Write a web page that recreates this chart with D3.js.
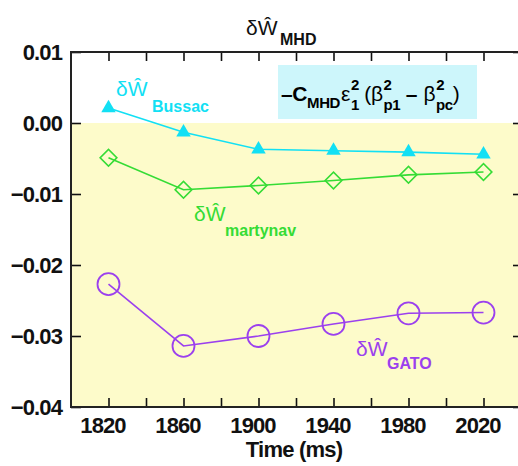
<!DOCTYPE html>
<html>
<head>
<meta charset="utf-8">
<script src="https://cdn.jsdelivr.net/npm/d3@7"></script>
<style>
  body { margin: 0; background: #fff; }
  text { font-family: "Liberation Sans", Arial, sans-serif; }
</style>
</head>
<body>
<div id="chart"></div>
<script>
// times of the equilibria, ms
var times = [1820, 1860, 1900, 1940, 1980, 2020];
var bussac = [0.0021, -0.0013, -0.0037, -0.0039, -0.0041, -0.0044];
var martynav = [-0.0049, -0.0094, -0.0088, -0.0081, -0.0073, -0.0069];
var gato = [-0.0227, -0.0314, -0.0300, -0.0283, -0.0268, -0.0267];
var yTicks = [0.01, 0.00, -0.01, -0.02, -0.03, -0.04];
var xTicks = [1820, 1860, 1900, 1940, 1980, 2020];

var W = 518, H = 466;
var plotLeft = 71, plotTop = 52, plotRight = 521, plotBottom = 407;

var cyan = "#12e0f4", green = "#35dc35", purple = "#9b40ee";

var svg = d3.select("#chart").append("svg")
  .attr("width", W)
  .attr("height", H);

var x = d3.scaleLinear().domain([1800, 2040]).range([plotLeft, plotRight]);
var y = d3.scaleLinear().domain([-0.04, 0.01]).range([plotBottom, plotTop]);

// yellow region below zero
svg.append("rect")
  .attr("x", x(1800)).attr("y", y(0))
  .attr("width", x(2040) - x(1800))
  .attr("height", y(-0.04) - y(0))
  .attr("fill", "#fdfbca");

// formula box
svg.append("rect")
  .attr("x", 278).attr("y", 65)
  .attr("width", 199).attr("height", 54)
  .attr("fill", "#cdf6fb");

var f = svg.append("text")
  .attr("x", 281).attr("y", 101)
  .attr("font-size", 21).attr("font-weight", "bold").attr("letter-spacing", -0.4);
function part(s, o) {
  var t = f.append("tspan").text(s);
  for (var k in o) t.attr(k, o[k]);
  return t;
}
part("\u2013C", {});
part("MHD", {"font-size": 15, dy: 7});
part("\u03b5", {"font-weight": "normal", dy: -7, dx: 1});
part("2", {"font-size": 15, dy: -11, dx: 1});
part("1", {"font-size": 15, dy: 20, dx: -8});
part(" (\u03b2", {"font-weight": "normal", dy: -9});
part("2", {"font-size": 15, dy: -11, dx: 1});
part("p1", {"font-size": 15, dy: 20, dx: -8});
part(" \u2013 ", {dy: -9});
part("\u03b2", {"font-weight": "normal", dx: 1});
part("2", {"font-size": 15, dy: -11, dx: 1});
part("pc", {"font-size": 15, dy: 20, dx: -8});
part(")", {"font-weight": "normal", dy: -9});

// axes, ticks pointing inward
function styleAxis(g) {
  g.select(".domain").remove();
  g.selectAll("line").attr("stroke", "#111").attr("stroke-width", 1.6);
  g.selectAll("text").attr("fill", "#111")
    .attr("font-size", 22).attr("font-weight", "bold")
    .attr("font-family", "Liberation Sans, Arial, sans-serif")
    .attr("letter-spacing", -0.9);
}

svg.append("g")
  .attr("transform", "translate(0," + plotBottom + ")")
  .call(d3.axisBottom(x).tickValues(d3.range(1820, 2040, 20)).tickSize(-9).tickFormat(""))
  .call(styleAxis);
svg.append("g")
  .attr("transform", "translate(0," + plotBottom + ")")
  .call(d3.axisBottom(x).tickValues(xTicks).tickSize(0).tickPadding(10).tickFormat(d3.format("d")))
  .call(styleAxis)
  .selectAll("text").attr("dx", -6);
svg.append("g")
  .attr("transform", "translate(0," + plotTop + ")")
  .call(d3.axisTop(x).tickValues(d3.range(1820, 2040, 20)).tickSize(-9).tickFormat(""))
  .call(styleAxis);
svg.append("g")
  .attr("transform", "translate(" + plotLeft + ",0)")
  .call(d3.axisLeft(y).tickValues(yTicks).tickSize(-10).tickPadding(9).tickFormat(d3.format(".2f")))
  .call(styleAxis);
svg.append("g")
  .attr("transform", "translate(" + plotRight + ",0)")
  .call(d3.axisRight(y).tickValues(yTicks).tickSize(-8).tickFormat(""))
  .call(styleAxis);

// frame
svg.append("rect")
  .attr("x", x(1800)).attr("y", y(0.01))
  .attr("width", x(2040) - x(1800))
  .attr("height", y(-0.04) - y(0.01))
  .attr("fill", "none").attr("stroke", "#222").attr("stroke-width", 2);

svg.append("text")
  .attr("x", 294).attr("y", 457)
  .attr("text-anchor", "middle")
  .attr("font-size", 22).attr("font-weight", "bold").attr("letter-spacing", -0.8)
  .attr("fill", "#111")
  .text("Time (ms)");

// series
function series(vals, color, shape) {
  var pts = times.map(function(t, i) { return [x(t), y(vals[i])]; });
  svg.append("path")
    .attr("d", d3.line()(pts))
    .attr("fill", "none").attr("stroke", color).attr("stroke-width", 1.6);
  var m = svg.append("g").selectAll("path").data(pts).join("path")
    .attr("transform", function(p) { return "translate(" + p[0] + "," + p[1] + ")" + (shape === "diamond" ? " rotate(45)" : ""); });
  if (shape === "triangle") {
    m.attr("d", d3.symbol(d3.symbolTriangle, 90)).attr("fill", color);
  } else if (shape === "diamond") {
    m.attr("d", d3.symbol(d3.symbolSquare, 140)).attr("fill", "none")
      .attr("stroke", color).attr("stroke-width", 1.6);
  } else {
    m.attr("d", d3.symbol(d3.symbolCircle, Math.PI * 11 * 11)).attr("fill", "none")
      .attr("stroke", color).attr("stroke-width", 1.8);
  }
}
series(bussac, cyan, "triangle");
series(martynav, green, "diamond");
series(gato, purple, "circle");

// labels
function dw(px, py, sub, color, subX, subY) {
  svg.append("text").attr("x", px).attr("y", py)
    .attr("font-size", 21).attr("fill", color).text("\u03b4\u0174");
  svg.append("text").attr("x", subX).attr("y", subY)
    .attr("font-size", 16).attr("font-weight", "bold").attr("fill", color).text(sub);
}
dw(246, 35, "MHD", "#111", 280, 45);
dw(116, 96, "Bussac", cyan, 152, 112);
dw(194, 221, "martynav", green, 225, 236);
dw(356, 356, "GATO", purple, 387, 369);
</script>
</body>
</html>
